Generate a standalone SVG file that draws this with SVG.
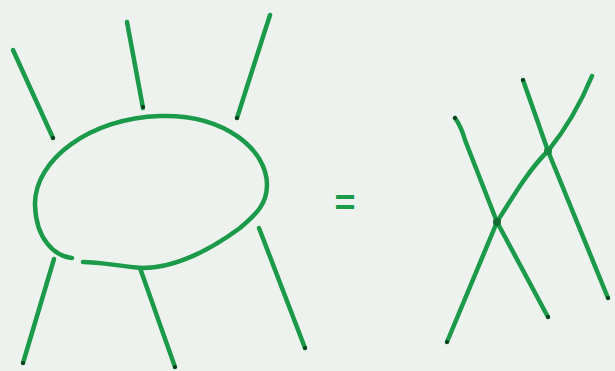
<svg xmlns="http://www.w3.org/2000/svg" width="615" height="371" viewBox="0 0 615 371">
<style>
.s{fill:none;stroke:#1b9a4a;stroke-width:4.5;stroke-linecap:round;stroke-linejoin:round}
.d{fill:#0c3a1e}
.eq{font-family:"Liberation Sans",Arial,sans-serif;font-size:36px;font-weight:bold;fill:#1b9a4a;text-anchor:middle}
</style>
<rect width="615" height="371" fill="#eef2ee"/>
<g id="blob">
<path class="s" d="M72 258 C55 256,36 240,35 205 C34 160,90 118,160 116 C225 114,267 150,267 185 C267 205,255 215,240 228 C210 250,175 268,142 268 C118 266,100 262,83 262"/>
</g>
<g id="connectors">
<path class="s" d="M13 50 L53 138"/>
<path class="s" d="M127 22 L143 108"/>
<path class="s" d="M270 15 L237 118"/>
<path class="s" d="M54 259 L23 363"/>
<path class="s" d="M140 268 L175 367"/>
<path class="s" d="M259 228 L305 348"/>
<path class="s" d="M455 118 Q461 126,465 140 L497 222 L548 317"/>
<path class="s" d="M447 342 L497 222 C512 198,530 168,548 151 C565 130,580 105,592 76"/>
<path class="s" d="M523 80 L548 151 L608 298"/>
<circle class="d" cx="53" cy="138" r="2"/>
<circle class="d" cx="143" cy="107" r="2"/>
<circle class="d" cx="237" cy="118" r="2"/>
<circle class="d" cx="23" cy="363" r="2"/>
<circle class="d" cx="175" cy="367" r="2"/>
<circle class="d" cx="305" cy="348" r="2"/>
<circle class="d" cx="455" cy="118" r="2"/>
<circle class="d" cx="548" cy="317" r="2"/>
<circle class="d" cx="447" cy="342" r="2"/>
<circle class="d" cx="523" cy="80" r="2"/>
<circle class="d" cx="608" cy="298" r="2"/>
<circle cx="497" cy="222" r="4" fill="#126b33"/>
<circle cx="548" cy="151" r="4" fill="#1a8a44"/>
</g>
<text class="eq" x="345" y="215">=</text>
</svg>
